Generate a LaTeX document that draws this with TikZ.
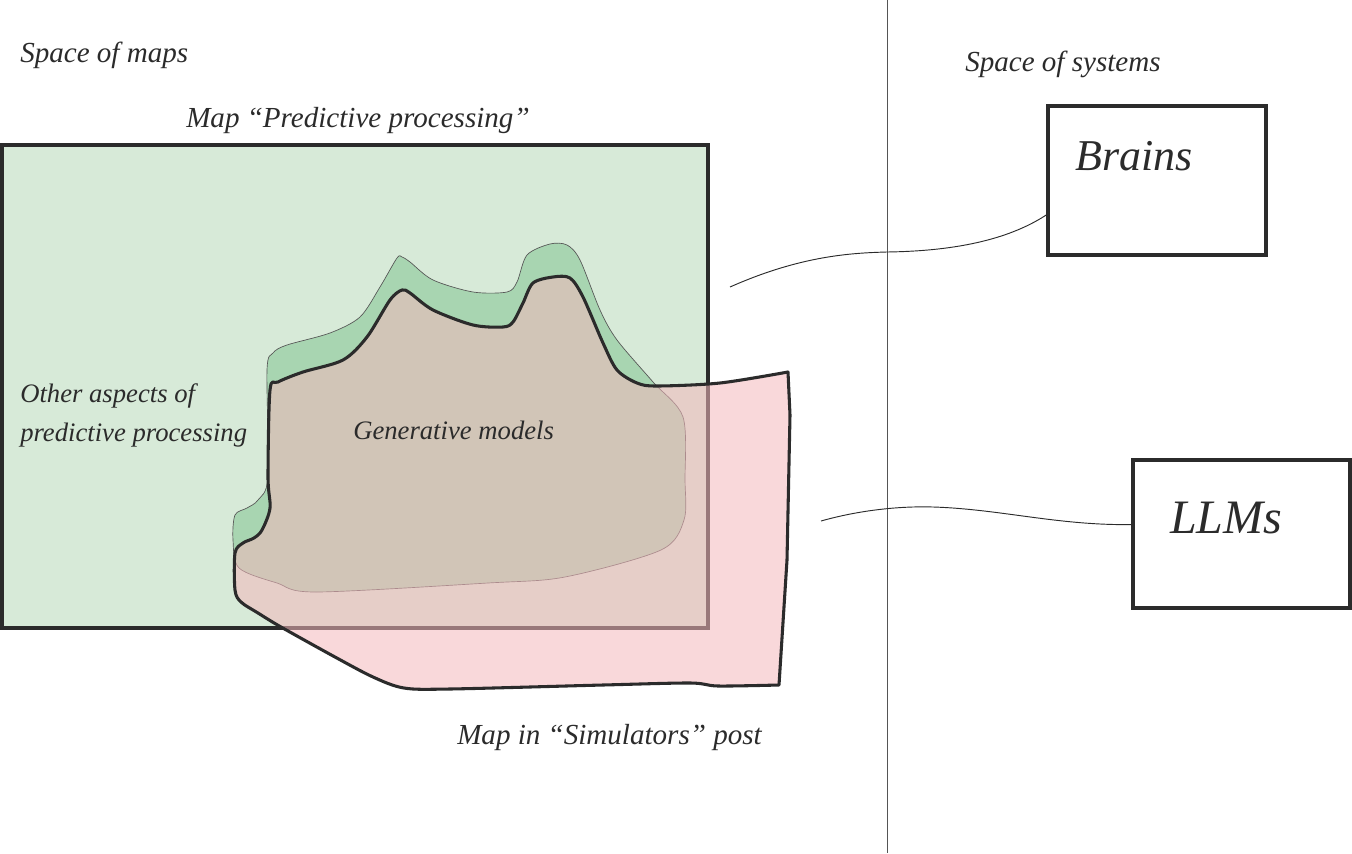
\documentclass[tikz,border=0pt]{standalone}
\usepackage{fontspec}
\setmainfont{Liberation Serif}
\definecolor{ink}{HTML}{2B2B2B}
\definecolor{mapgreen}{HTML}{D7EAD8}
\definecolor{blobgreen}{HTML}{A8D5B1}
\definecolor{simpink}{RGB}{244,184,188}
\definecolor{thinline}{HTML}{555555}
\begin{document}
\begin{tikzpicture}[x=0.75pt,y=-0.75pt,
  lbl/.style={font=\fontsize{20}{24}\selectfont\itshape, inner sep=0pt, anchor=base west, text=ink},
  olbl/.style={font=\fontsize{21.8}{26}\selectfont\itshape, inner sep=0pt, anchor=base west, text=ink},
  big/.style={font=\fontsize{33}{38}\selectfont\itshape, inner sep=0pt, anchor=base west, text=ink},
  sysbox/.style={draw=ink, line width=2.6pt, inner sep=0pt, outer sep=0pt, anchor=north west},
  mapbox/.style={draw=ink, fill=mapgreen, line width=2.3pt, inner sep=0pt, outer sep=0pt, anchor=north west},
  genblob/.style={fill=blobgreen, draw=thinline, line width=0.5pt},
  simregion/.style={fill=simpink, fill opacity=0.55, draw=ink, line width=2.3pt, line join=round},
  link/.style={draw=ink, line width=0.7pt},
  divider/.style={draw=thinline, line width=0.75pt}
]
\useasboundingbox (0,0) rectangle (1352,853);

% map "Predictive processing"
\node[mapbox, minimum width=529.5pt, minimum height=362.25pt] (pp) at (2,145) {};

% generative models blob (green)
\path[genblob] plot[smooth cycle, tension=0.5] coordinates {
 (239,568) (233,540) (235,515) (247,508) (258,500) (268,477) (267,370) (273,353)
 (287,345) (330,333) (360,317) (380,287) (397,258) (402,257) (410,262) (433,280)
 (473,292) (507,292) (517,282) (527,255) (550,244) (567,245) (580,260) (600,310)
 (617,340) (653,382) (683,417) (685,480) (684,520) (661,550) (565,577) (488,583)
 (316,592) (277,583)};

% map in "Simulators" post
\path[simregion] (788,372) -- (790,415) -- (787,560) --
 plot[smooth, tension=0.5] coordinates {
 (779,685) (718,686) (690,683) (603,685) (450,689) (404,688) (373,677) (335,657)
 (281,627) (258,613) (241,602) (235,590) (235,553) (243,543) (254,538) (262,530)
 (270,508) (268,477) (270,390) (278,382) (303,372) (343,360) (367,337) (390,300)
 (402,290) (410,293) (433,310) (473,325) (503,327) (513,322) (523,303) (533,283)
 (553,277) (570,278) (583,297) (603,343) (617,370) (637,383) (657,386) (720,383)
 (788,372)} -- cycle;

% divider
\coordinate (dtop) at (887,0);
\coordinate (dbot) at (887,853);
\draw[divider] (dtop) -- (dbot);

% system boxes
\node[sysbox, minimum width=163.5pt, minimum height=111.75pt] (brains) at (1048,106) {};
\node[sysbox, minimum width=162.75pt, minimum height=111pt] (llms) at (1133,460) {};
\node[big] (tbrains) at (1075,170) {Brains};
\node[big, font=\fontsize{36}{40}\selectfont\itshape] (tllms) at (1170,533) {LLMs};

% connectors
\coordinate (ppend) at (730,287);
\coordinate (simend) at (821,521);
\draw[link] (ppend) .. controls (800,256) and (850,253) .. (887,252)
  .. controls (960,251) and (1012,238) .. (brains.197.6);
\draw[link] (simend) .. controls (860,510) and (900,506) .. (933,507)
  .. controls (1000,509) and (1060,526) .. (llms.175.3);

% labels
\node[olbl] (spmaps) at (20,62) {Space of maps};
\node[olbl] (sppp) at (186,127) {Map “Predictive processing”};
\node[olbl] (spsys) at (965,71) {Space of systems};
\node[lbl] (other1) at (20,402) {Other aspects of};
\node[lbl] (other2) at (20,441) {predictive processing};
\node[lbl] (gen) at (353,439) {Generative models};
\node[olbl] (sim) at (457,744) {Map in “Simulators” post};
\end{tikzpicture}
\end{document}
